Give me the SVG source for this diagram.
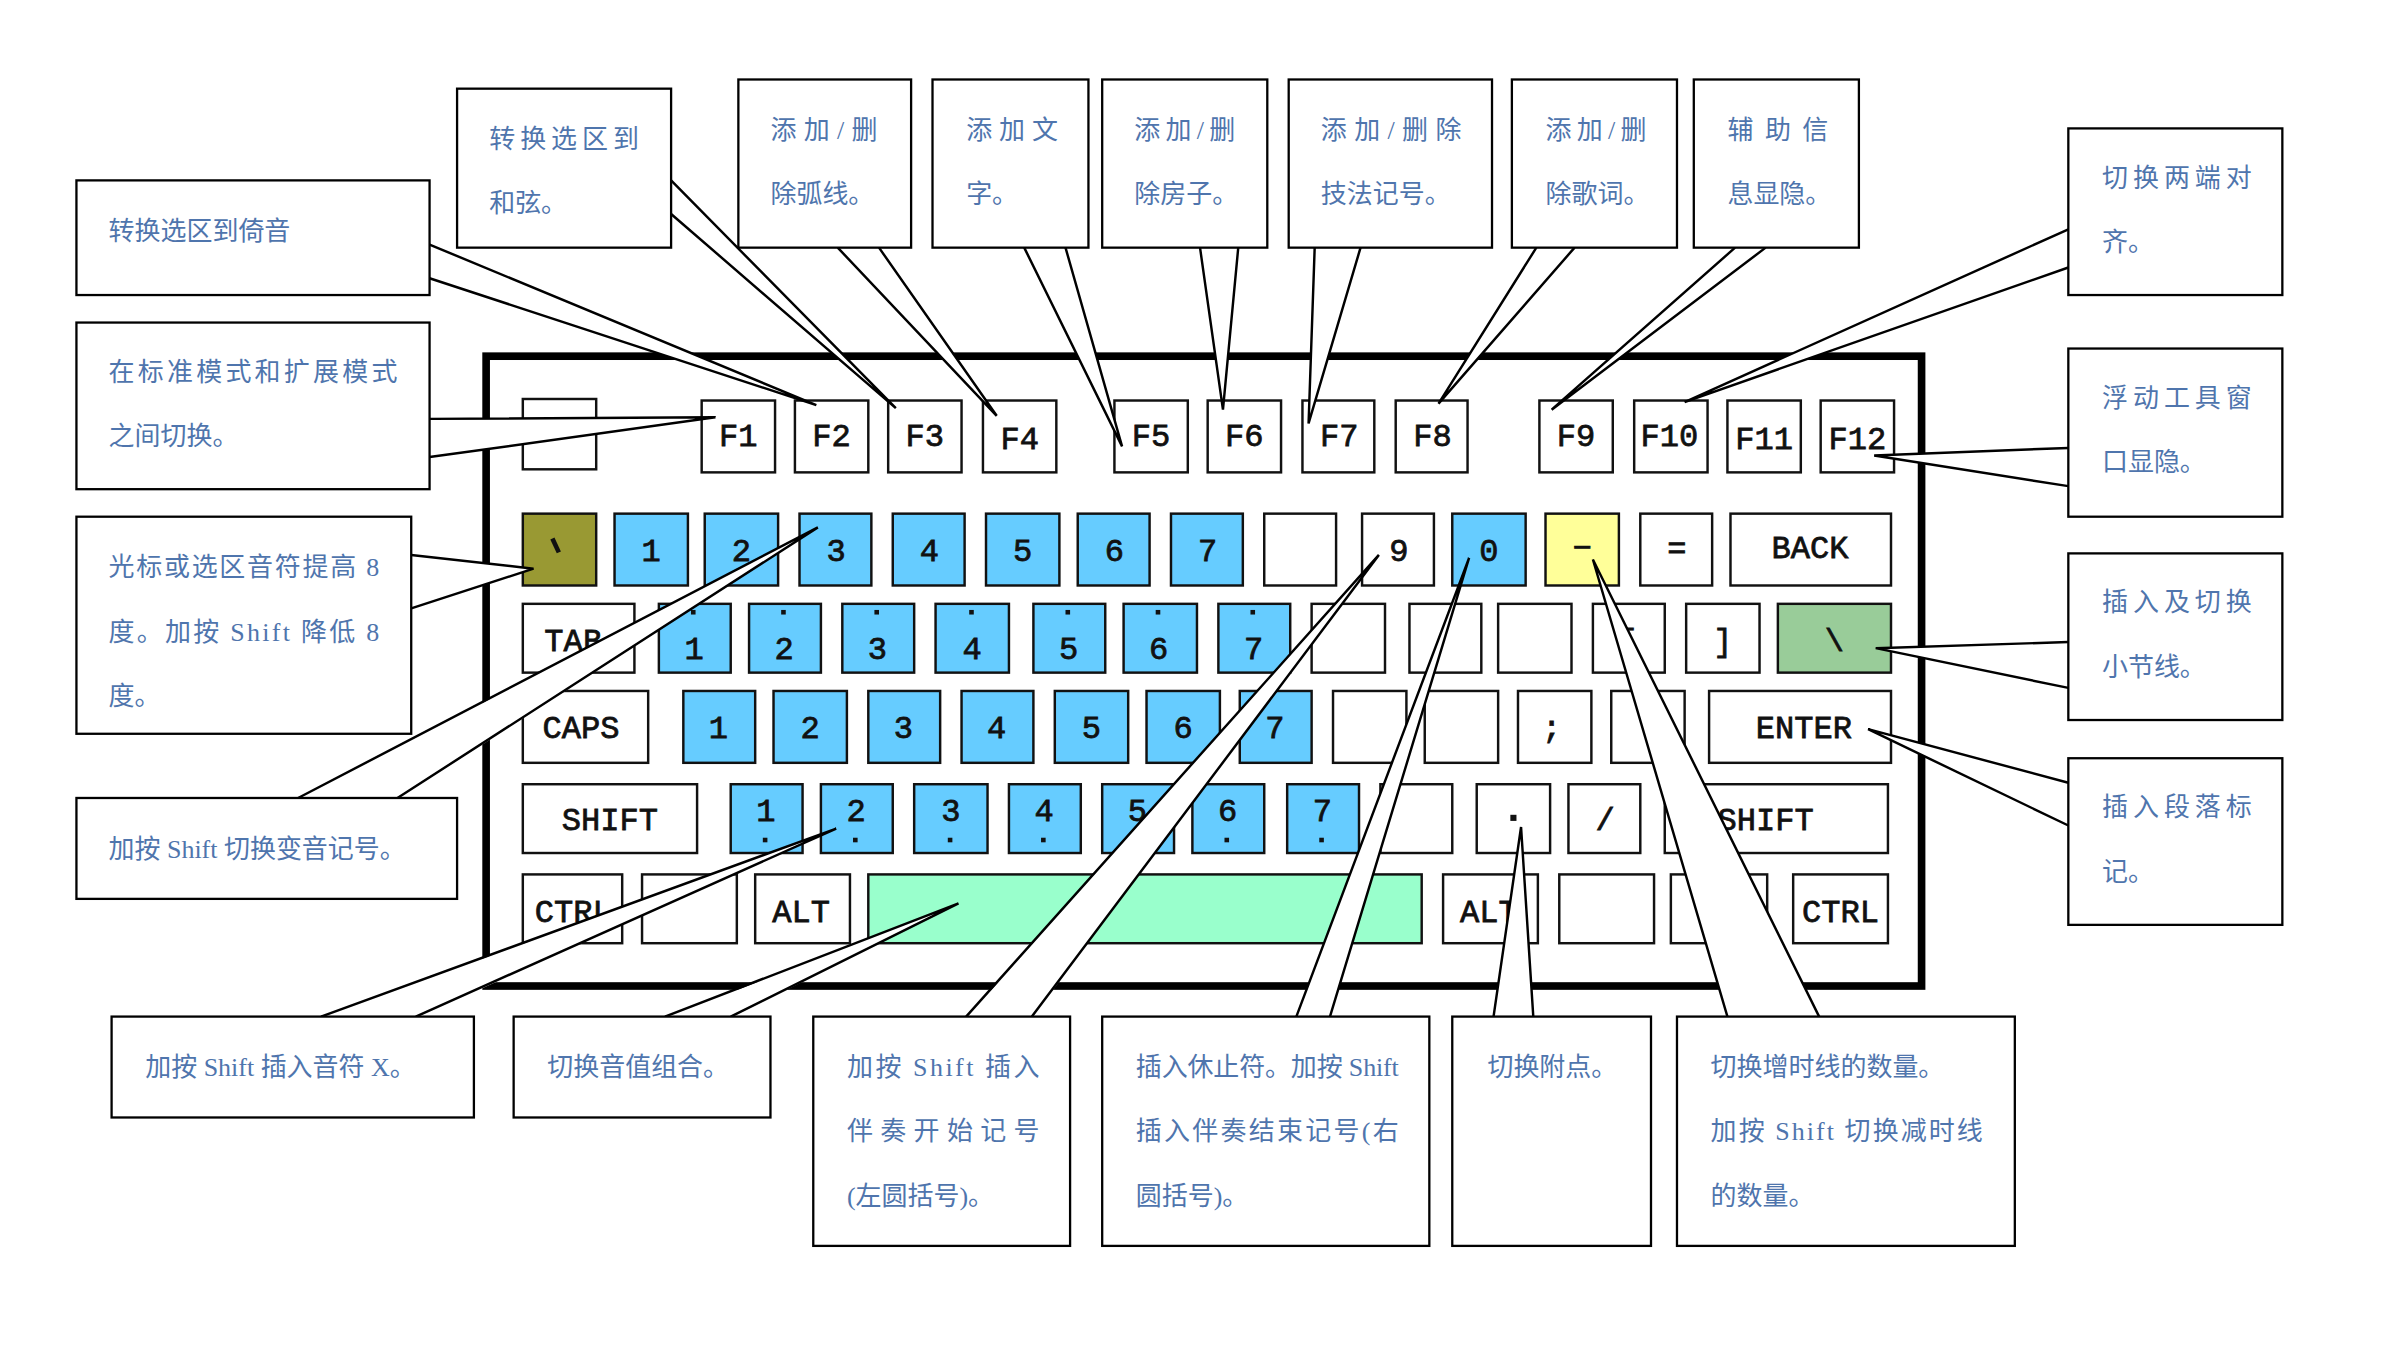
<svg xmlns="http://www.w3.org/2000/svg" width="2400" height="1347" viewBox="0 0 2400 1347">
<style>
.k{stroke:#111;stroke-width:1.6;fill:#fff}
.b{fill:#66ccff}
.kt{font-family:"Liberation Mono",monospace;font-size:21px;fill:#111;text-anchor:middle;stroke:#111;stroke-width:0.5}
.bx{fill:#fff;stroke:#000;stroke-width:1.5}
.wf{fill:#fff;stroke:none}
.wl{fill:none;stroke:#000;stroke-width:1.6;stroke-linejoin:miter}
.t{font-family:"Liberation Serif","Noto Sans CJK SC",serif;font-size:17px;fill:#4f75ad}
.d{fill:#111}
</style>
<rect width="2400" height="1347" fill="#fff"/>
<g transform="scale(1.5287)">
<g id="keyboard">
<rect x="318" y="233" width="939" height="412" fill="#fff" stroke="#000" stroke-width="5"/>
<rect class="k" x="342" y="261" width="48" height="46"/>
<g><rect class="k" x="459" y="262" width="48" height="47"/><text class="kt" x="483" y="292">F1</text></g>
<g><rect class="k" x="520" y="262" width="48" height="47"/><text class="kt" x="544" y="292">F2</text></g>
<g><rect class="k" x="581" y="262" width="48" height="47"/><text class="kt" x="605" y="292">F3</text></g>
<g><rect class="k" x="643" y="262" width="48" height="47"/><text class="kt" x="667" y="294">F4</text></g>
<g><rect class="k" x="729" y="262" width="48" height="47"/><text class="kt" x="753" y="292">F5</text></g>
<g><rect class="k" x="790" y="262" width="48" height="47"/><text class="kt" x="814" y="292">F6</text></g>
<g><rect class="k" x="852" y="262" width="47" height="47"/><text class="kt" x="876" y="292">F7</text></g>
<g><rect class="k" x="913" y="262" width="47" height="47"/><text class="kt" x="937" y="292">F8</text></g>
<g><rect class="k" x="1007" y="262" width="48" height="47"/><text class="kt" x="1031" y="292">F9</text></g>
<g><rect class="k" x="1069" y="262" width="48" height="47"/><text class="kt" x="1092" y="292">F10</text></g>
<g><rect class="k" x="1130" y="262" width="48" height="47"/><text class="kt" x="1154" y="294">F11</text></g>
<g><rect class="k" x="1191" y="262" width="48" height="47"/><text class="kt" x="1215" y="294">F12</text></g>
<g><rect class="k" x="342" y="336" width="48" height="47" style="fill:#999933"/><rect class="d" x="362" y="352" width="3" height="10" transform="rotate(-25 363 357)"/></g>
<g><rect class="k b" x="402" y="336" width="48" height="47"/><text class="kt" x="426" y="367">1</text></g>
<g><rect class="k b" x="461" y="336" width="48" height="47"/><text class="kt" x="485" y="367">2</text></g>
<g><rect class="k b" x="523" y="336" width="47" height="47"/><text class="kt" x="547" y="367">3</text></g>
<g><rect class="k b" x="584" y="336" width="47" height="47"/><text class="kt" x="608" y="367">4</text></g>
<g><rect class="k b" x="645" y="336" width="48" height="47"/><text class="kt" x="669" y="367">5</text></g>
<g><rect class="k b" x="705" y="336" width="47" height="47"/><text class="kt" x="729" y="367">6</text></g>
<g><rect class="k b" x="766" y="336" width="47" height="47"/><text class="kt" x="790" y="367">7</text></g>
<rect class="k" x="827" y="336" width="47" height="47"/>
<g><rect class="k" x="891" y="336" width="47" height="47"/><text class="kt" x="915" y="367">9</text></g>
<g><rect class="k b" x="950" y="336" width="48" height="47"/><text class="kt" x="974" y="367">0</text></g>
<g><rect class="k" x="1011" y="336" width="48" height="47" style="fill:#ffff99"/><text class="kt" x="1035" y="365">−</text></g>
<g><rect class="k" x="1073" y="336" width="47" height="47"/><text class="kt" x="1097" y="365">=</text></g>
<g><rect class="k" x="1132" y="336" width="105" height="47"/><text class="kt" x="1184" y="365">BACK</text></g>
<g><rect class="k" x="342" y="395" width="73" height="45"/><text class="kt" x="375" y="426">TAB</text></g>
<g><rect class="k b" x="431" y="395" width="47" height="45"/><text class="kt" x="454" y="431">1</text><rect class="d" x="452" y="399" width="3" height="3"/></g>
<g><rect class="k b" x="490" y="395" width="47" height="45"/><text class="kt" x="513" y="431">2</text><rect class="d" x="511" y="399" width="3" height="3"/></g>
<g><rect class="k b" x="551" y="395" width="47" height="45"/><text class="kt" x="574" y="431">3</text><rect class="d" x="572" y="399" width="3" height="3"/></g>
<g><rect class="k b" x="612" y="395" width="48" height="45"/><text class="kt" x="636" y="431">4</text><rect class="d" x="634" y="399" width="3" height="3"/></g>
<g><rect class="k b" x="676" y="395" width="47" height="45"/><text class="kt" x="699" y="431">5</text><rect class="d" x="697" y="399" width="3" height="3"/></g>
<g><rect class="k b" x="735" y="395" width="48" height="45"/><text class="kt" x="758" y="431">6</text><rect class="d" x="756" y="399" width="3" height="3"/></g>
<g><rect class="k b" x="797" y="395" width="47" height="45"/><text class="kt" x="820" y="431">7</text><rect class="d" x="818" y="399" width="3" height="3"/></g>
<rect class="k" x="858" y="395" width="48" height="45"/>
<rect class="k" x="922" y="395" width="47" height="45"/>
<rect class="k" x="980" y="395" width="48" height="45"/>
<g><rect class="k" x="1042" y="395" width="47" height="45"/><text class="kt" x="1065" y="426">[</text></g>
<g><rect class="k" x="1103" y="395" width="48" height="45"/><text class="kt" x="1127" y="426">]</text></g>
<g><rect class="k" x="1163" y="395" width="74" height="45" style="fill:#99cc99"/><text class="kt" x="1200" y="426">\</text></g>
<g><rect class="k" x="342" y="452" width="82" height="47"/><text class="kt" x="380" y="483">CAPS</text></g>
<g><rect class="k b" x="447" y="452" width="47" height="47"/><text class="kt" x="470" y="483">1</text></g>
<g><rect class="k b" x="506" y="452" width="48" height="47"/><text class="kt" x="530" y="483">2</text></g>
<g><rect class="k b" x="568" y="452" width="47" height="47"/><text class="kt" x="591" y="483">3</text></g>
<g><rect class="k b" x="629" y="452" width="47" height="47"/><text class="kt" x="652" y="483">4</text></g>
<g><rect class="k b" x="690" y="452" width="48" height="47"/><text class="kt" x="714" y="483">5</text></g>
<g><rect class="k b" x="750" y="452" width="48" height="47"/><text class="kt" x="774" y="483">6</text></g>
<g><rect class="k b" x="811" y="452" width="47" height="47"/><text class="kt" x="834" y="483">7</text></g>
<rect class="k" x="872" y="452" width="48" height="47"/>
<rect class="k" x="932" y="452" width="48" height="47"/>
<g><rect class="k" x="993" y="452" width="48" height="47"/><text class="kt" x="1015" y="483">;</text></g>
<rect class="k" x="1054" y="452" width="48" height="47"/>
<g><rect class="k" x="1118" y="452" width="119" height="47"/><text class="kt" x="1180" y="483">ENTER</text></g>
<g><rect class="k" x="342" y="513" width="114" height="45"/><text class="kt" x="399" y="543">SHIFT</text></g>
<g><rect class="k b" x="478" y="513" width="47" height="45"/><text class="kt" x="501" y="537">1</text><rect class="d" x="499" y="548" width="3" height="3"/></g>
<g><rect class="k b" x="537" y="513" width="47" height="45"/><text class="kt" x="560" y="537">2</text><rect class="d" x="558" y="548" width="3" height="3"/></g>
<g><rect class="k b" x="598" y="513" width="48" height="45"/><text class="kt" x="622" y="537">3</text><rect class="d" x="620" y="548" width="3" height="3"/></g>
<g><rect class="k b" x="660" y="513" width="47" height="45"/><text class="kt" x="683" y="537">4</text><rect class="d" x="681" y="548" width="3" height="3"/></g>
<g><rect class="k b" x="721" y="513" width="47" height="45"/><text class="kt" x="744" y="537">5</text><rect class="d" x="742" y="548" width="3" height="3"/></g>
<g><rect class="k b" x="780" y="513" width="47" height="45"/><text class="kt" x="803" y="537">6</text><rect class="d" x="801" y="548" width="3" height="3"/></g>
<g><rect class="k b" x="842" y="513" width="47" height="45"/><text class="kt" x="865" y="537">7</text><rect class="d" x="863" y="548" width="3" height="3"/></g>
<rect class="k" x="903" y="513" width="47" height="45"/>
<g><rect class="k" x="966" y="513" width="48" height="45"/><rect class="d" x="988" y="533" width="4" height="4"/></g>
<g><rect class="k" x="1026" y="513" width="47" height="45"/><text class="kt" x="1050" y="543">/</text></g>
<g><rect class="k" x="1089" y="513" width="146" height="45"/><text class="kt" x="1155" y="543">SHIFT</text></g>
<g><rect class="k" x="342" y="572" width="65" height="45"/><text class="kt" x="375" y="603">CTRL</text></g>
<rect class="k" x="420" y="572" width="62" height="45"/>
<g><rect class="k" x="494" y="572" width="62" height="45"/><text class="kt" x="524" y="603">ALT</text></g>
<rect class="k" x="568" y="572" width="362" height="45" style="fill:#99ffcc"/>
<g><rect class="k" x="944" y="572" width="62" height="45"/><text class="kt" x="974" y="603">ALT</text></g>
<rect class="k" x="1020" y="572" width="62" height="45"/>
<rect class="k" x="1093" y="572" width="63" height="45"/>
<g><rect class="k" x="1173" y="572" width="62" height="45"/><text class="kt" x="1204" y="603">CTRL</text></g>
</g>
<g id="connectors">
<polygon class="wf" points="280,160 534,265 280,182"/><polyline class="wl" points="281,160 534,265 281,182"/>
<polygon class="wf" points="438,118 586,267 438,140"/><polyline class="wl" points="439,118 586,267 439,140"/>
<polygon class="wf" points="548,161 652,272 575,161"/><polyline class="wl" points="548,162 652,272 575,162"/>
<polygon class="wf" points="670,161 734,292 697,161"/><polyline class="wl" points="670,162 734,292 697,162"/>
<polygon class="wf" points="785,161 800,268 810,161"/><polyline class="wl" points="785,162 800,268 810,162"/>
<polygon class="wf" points="860,161 856,277 890,161"/><polyline class="wl" points="860,162 856,277 890,162"/>
<polygon class="wf" points="1005,161 941,264 1030,161"/><polyline class="wl" points="1005,162 941,264 1030,162"/>
<polygon class="wf" points="1135,161 1015,268 1155,161"/><polyline class="wl" points="1135,162 1015,268 1155,162"/>
<polygon class="wf" points="1354,150 1102,263 1354,175"/><polyline class="wl" points="1353,150 1102,263 1353,175"/>
<polygon class="wf" points="1354,293 1226,298 1354,318"/><polyline class="wl" points="1353,293 1226,298 1353,318"/>
<polygon class="wf" points="1354,420 1227,424 1354,450"/><polyline class="wl" points="1353,420 1227,424 1353,450"/>
<polygon class="wf" points="1354,512 1222,477 1354,540"/><polyline class="wl" points="1353,512 1222,477 1353,540"/>
<polygon class="wf" points="280,274 468,273 280,299"/><polyline class="wl" points="281,274 468,273 281,299"/>
<polygon class="wf" points="268,363 349,372 268,398"/><polyline class="wl" points="269,363 349,372 269,398"/>
<polygon class="wf" points="195,523 535,345 260,523"/><polyline class="wl" points="195,522 535,345 260,522"/>
<polygon class="wf" points="210,666 547,542 272,666"/><polyline class="wl" points="210,665 547,542 272,665"/>
<polygon class="wf" points="435,666 627,591 478,666"/><polyline class="wl" points="435,665 627,591 478,665"/>
<polygon class="wf" points="632,666 902,363 675,666"/><polyline class="wl" points="632,665 902,363 675,665"/>
<polygon class="wf" points="848,666 961,365 870,666"/><polyline class="wl" points="848,665 961,365 870,665"/>
<polygon class="wf" points="977,666 995,541 1003,666"/><polyline class="wl" points="977,665 995,541 1003,665"/>
<polygon class="wf" points="1130,666 1042,366 1190,666"/><polyline class="wl" points="1130,665 1042,366 1190,665"/>
</g>
<g id="n1"><rect class="bx" x="50" y="118" width="231" height="75"/><text class="t" x="71" y="157">转换选区到倚音</text></g>
<g id="n2"><rect class="bx" x="299" y="58" width="140" height="104"/><text class="t" x="320" y="97" textLength="98" lengthAdjust="spacing">转换选区到</text><text class="t" x="320" y="139">和弦。</text></g>
<g id="n3"><rect class="bx" x="483" y="52" width="113" height="110"/><text class="t" x="504" y="91" textLength="70" lengthAdjust="spacing">添加/删</text><text class="t" x="504" y="133">除弧线。</text></g>
<g id="n4"><rect class="bx" x="610" y="52" width="102" height="110"/><text class="t" x="632" y="91" textLength="60" lengthAdjust="spacing">添加文</text><text class="t" x="632" y="133">字。</text></g>
<g id="n5"><rect class="bx" x="721" y="52" width="108" height="110"/><text class="t" x="742" y="91" textLength="66" lengthAdjust="spacing">添加/删</text><text class="t" x="742" y="133">除房子。</text></g>
<g id="n6"><rect class="bx" x="843" y="52" width="133" height="110"/><text class="t" x="864" y="91" textLength="92" lengthAdjust="spacing">添加/删除</text><text class="t" x="864" y="133">技法记号。</text></g>
<g id="n7"><rect class="bx" x="989" y="52" width="108" height="110"/><text class="t" x="1011" y="91" textLength="66" lengthAdjust="spacing">添加/删</text><text class="t" x="1011" y="133">除歌词。</text></g>
<g id="n8"><rect class="bx" x="1108" y="52" width="108" height="110"/><text class="t" x="1130" y="91" textLength="66" lengthAdjust="spacing">辅助信</text><text class="t" x="1130" y="133">息显隐。</text></g>
<g id="n9"><rect class="bx" x="1353" y="84" width="140" height="109"/><text class="t" x="1375" y="122" textLength="98" lengthAdjust="spacing">切换两端对</text><text class="t" x="1375" y="164">齐。</text></g>
<g id="n10"><rect class="bx" x="1353" y="228" width="140" height="110"/><text class="t" x="1375" y="266" textLength="98" lengthAdjust="spacing">浮动工具窗</text><text class="t" x="1375" y="308">口显隐。</text></g>
<g id="n11"><rect class="bx" x="1353" y="362" width="140" height="109"/><text class="t" x="1375" y="400" textLength="98" lengthAdjust="spacing">插入及切换</text><text class="t" x="1375" y="442">小节线。</text></g>
<g id="n12"><rect class="bx" x="1353" y="496" width="140" height="109"/><text class="t" x="1375" y="534" textLength="98" lengthAdjust="spacing">插入段落标</text><text class="t" x="1375" y="576">记。</text></g>
<g id="n13"><rect class="bx" x="50" y="211" width="231" height="109"/><text class="t" x="71" y="249" textLength="189" lengthAdjust="spacing">在标准模式和扩展模式</text><text class="t" x="71" y="291">之间切换。</text></g>
<g id="n14"><rect class="bx" x="50" y="338" width="219" height="142"/><text class="t" x="71" y="377" textLength="177" lengthAdjust="spacing">光标或选区音符提高 8</text><text class="t" x="71" y="419" textLength="177" lengthAdjust="spacing">度。加按 Shift 降低 8</text><text class="t" x="71" y="461">度。</text></g>
<g id="n15"><rect class="bx" x="50" y="522" width="249" height="66"/><text class="t" x="71" y="561">加按 Shift 切换变音记号。</text></g>
<g id="n16"><rect class="bx" x="73" y="665" width="237" height="66"/><text class="t" x="95" y="704">加按 Shift 插入音符 X。</text></g>
<g id="n17"><rect class="bx" x="336" y="665" width="168" height="66"/><text class="t" x="358" y="704">切换音值组合。</text></g>
<g id="n18"><rect class="bx" x="532" y="665" width="168" height="150"/><text class="t" x="554" y="704" textLength="126" lengthAdjust="spacing">加按 Shift 插入</text><text class="t" x="554" y="746" textLength="126" lengthAdjust="spacing">伴奏开始记号</text><text class="t" x="554" y="788">(左圆括号)。</text></g>
<g id="n19"><rect class="bx" x="721" y="665" width="214" height="150"/><text class="t" x="743" y="704" textLength="172" lengthAdjust="spacing">插入休止符。加按 Shift</text><text class="t" x="743" y="746" textLength="172" lengthAdjust="spacing">插入伴奏结束记号(右</text><text class="t" x="743" y="788">圆括号)。</text></g>
<g id="n20"><rect class="bx" x="950" y="665" width="130" height="150"/><text class="t" x="973" y="704">切换附点。</text></g>
<g id="n21"><rect class="bx" x="1097" y="665" width="221" height="150"/><text class="t" x="1119" y="704">切换增时线的数量。</text><text class="t" x="1119" y="746" textLength="178" lengthAdjust="spacing">加按 Shift 切换减时线</text><text class="t" x="1119" y="788">的数量。</text></g>
</g>
</svg>
